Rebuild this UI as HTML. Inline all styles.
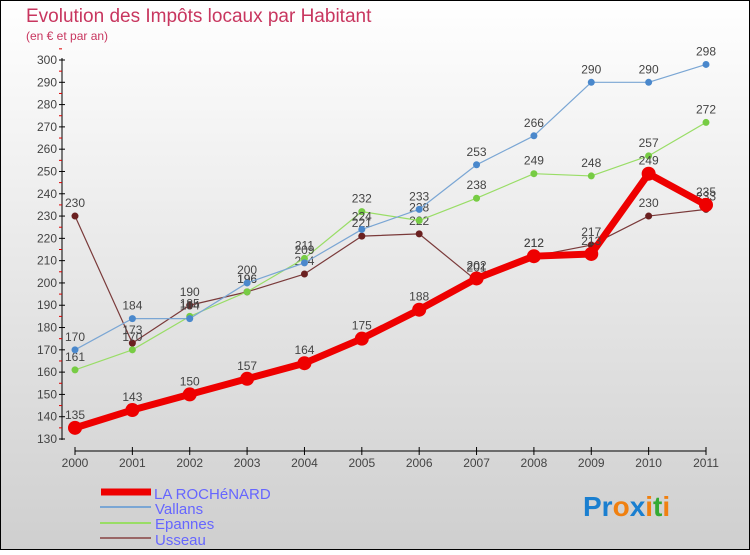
<!DOCTYPE html>
<html><head><meta charset="utf-8"><style>
body{margin:0}
#c{width:750px;height:550px;position:relative;font-family:"Liberation Sans",sans-serif}
</style></head><body>
<div id="c">
<svg id="s" width="750" height="550" xmlns="http://www.w3.org/2000/svg">
<defs><linearGradient id="bg" x1="0" y1="0" x2="0" y2="1"><stop offset="0" stop-color="#ffffff"/><stop offset="1" stop-color="#cfcfcf"/></linearGradient></defs>
<rect x="0.5" y="0.5" width="749" height="549" fill="url(#bg)" stroke="#000"/>
<text x="26" y="22" font-size="19" fill="#c8365f">Evolution des Impôts locaux par Habitant</text>
<text x="26" y="40" font-size="12" fill="#c8365f">(en € et par an)</text>
<g id="axes"></g><g id="series"></g>
<g>
<line x1="101" y1="492" x2="151" y2="492" stroke="#e00" stroke-width="7"/>
<text x="154" y="499" font-size="15" fill="#6666ff">LA ROCHéNARD</text>
<line x1="101" y1="546" x2="101" y2="546" stroke="none"/>
<line x1="100" y1="507" x2="151" y2="507" stroke="#7aa6d4" stroke-width="2"/>
<text x="155" y="514" font-size="15" fill="#6666ff">Vallans</text>
<line x1="100" y1="523" x2="151" y2="523" stroke="#99dd66" stroke-width="2"/>
<text x="155" y="529" font-size="15" fill="#6666ff">Epannes</text>
<line x1="100" y1="538" x2="151" y2="538" stroke="#996666" stroke-width="2"/>
<text x="155" y="545" font-size="15" fill="#6666ff">Usseau</text>
</g>
<text x="583" y="516" font-size="28" font-weight="bold"><tspan fill="#1a7fd0">Pr</tspan><tspan fill="#f08010">o</tspan><tspan fill="#1a7fd0">x</tspan><tspan fill="#f08010">i</tspan><tspan fill="#33aa33">t</tspan><tspan fill="#f08010">i</tspan></text>
</svg></div>
<script>
const years=[2000,2001,2002,2003,2004,2005,2006,2007,2008,2009,2010,2011];
const yTicks=[130,140,150,160,170,180,190,200,210,220,230,240,250,260,270,280,290,300];
const rochenard=[135,143,150,157,164,175,188,202,212,213,249,235];
const vallans=[170,184,184,200,209,224,233,253,266,290,290,298];
const epannes=[161,170,185,196,211,232,228,238,249,248,257,272];
const usseau=[230,173,190,196,204,221,222,201,212,217,230,233];
const NS="http://www.w3.org/2000/svg";
function xS(i){return 75+i*(706-75)/11;}
function yS(v){return 439-(v-130)*(439-60)/170;}
function mk(t,a,p){const e=document.createElementNS(NS,t);for(const k in a)e.setAttribute(k,a[k]);p.appendChild(e);return e;}
const ax=document.getElementById('axes');
let l=mk('line',{x1:62,y1:58,x2:62,y2:440,stroke:'#000'},ax);


yTicks.forEach(v=>{
 mk('line',{x1:59,y1:yS(v),x2:65,y2:yS(v),stroke:'#000'},ax);
 mk('line',{x1:59,y1:yS(v+5),x2:62,y2:yS(v+5),stroke:'#d00'},ax);
 const t=mk('text',{x:57,y:yS(v)+4,'font-size':12,fill:'#444','text-anchor':'end'},ax);
 t.textContent=v;
 
 
});
l=mk('line',{x1:75,y1:451,x2:706,y2:451,stroke:'#000'},ax);


years.forEach((y,i)=>{
 mk('line',{x1:xS(i),y1:447,x2:xS(i),y2:455,stroke:'#000'},ax);
 const t=mk('text',{x:xS(i),y:467,'font-size':12,fill:'#444','text-anchor':'middle'},ax);
 t.textContent=y;
 
 
});
const sg=document.getElementById('series');
function draw(data,name,color,dot,w,r){
 const g=mk('g',{},sg);
 
 
 const p=mk('polyline',{points:data.map((v,i)=>xS(i)+','+yS(v)).join(' '),fill:'none',stroke:color,'stroke-width':w,'stroke-linejoin':'round'},g);
 
 
 data.forEach((v,i)=>{
  const c=mk('circle',{cx:xS(i),cy:yS(v),r:r,fill:dot},g);
  
  
  const t=mk('text',{x:xS(i),y:yS(v)-9,'font-size':12,fill:'#444','text-anchor':'middle'},g);
  t.textContent=v;
  
  
 });
}
draw(usseau,'usseau','#7a3a3a','#6a2020',1.2,3.5);
draw(epannes,'epannes','#99dd66','#77cc44',1.2,3.5);
draw(vallans,'vallans','#7aa6d4','#4a88cc',1.2,3.5);
draw(rochenard,'larochenard','#ee0000','#ee0000',7,7);
</script>
</body></html>
